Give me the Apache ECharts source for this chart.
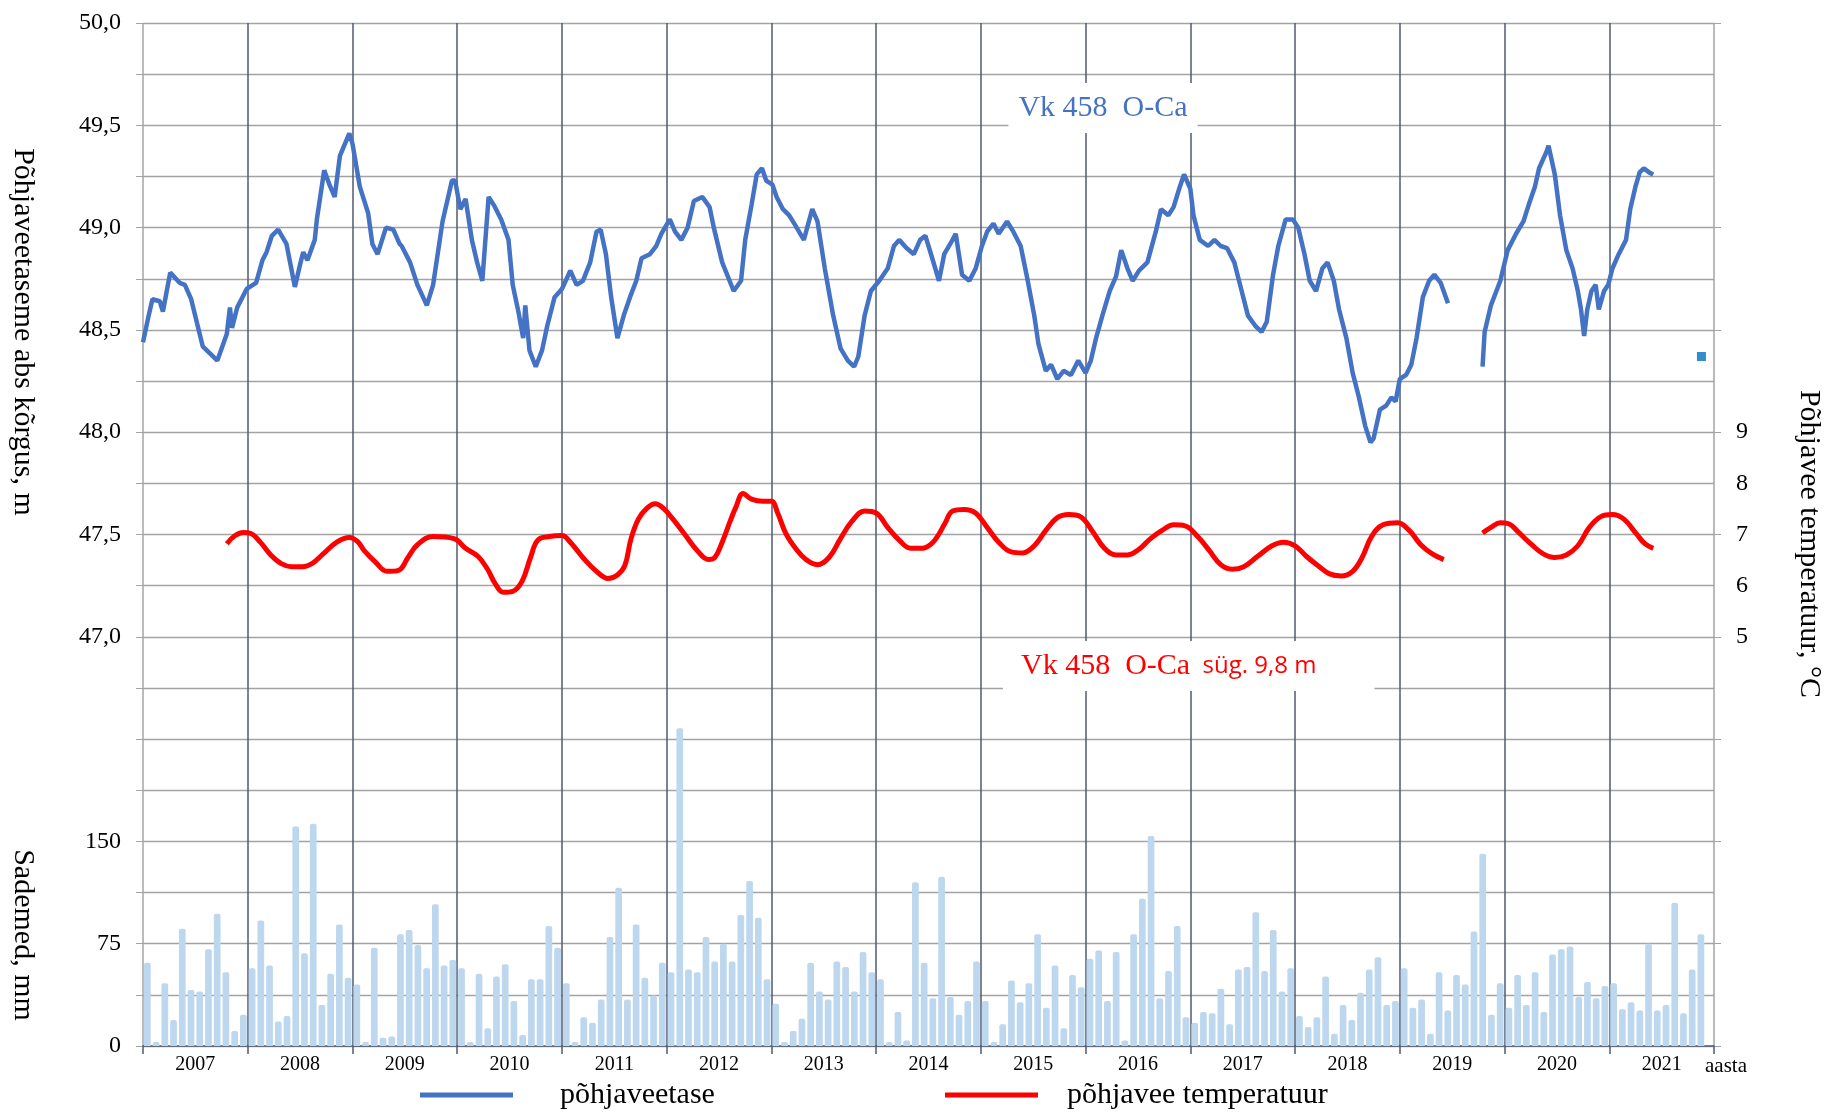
<!DOCTYPE html>
<html>
<head>
<meta charset="utf-8">
<title>Vk 458 O-Ca</title>
<script src="https://cdn.jsdelivr.net/npm/echarts@6/dist/echarts.min.js"></script>
<style>
    html, body { margin: 0; padding: 0; background: #fff; }
    #chart { width: 1829px; height: 1112px; }
</style>
</head>
<body>
<div id="chart"></div>
<script>
    // aastad x-teljel
    var aastad = ['2007', '2008', '2009', '2010', '2011', '2012', '2013', '2014',
                  '2015', '2016', '2017', '2018', '2019', '2020', '2021'];

    // kuu sademed, mm (jaan 2007 ... dets 2021)
    var sademed = [
        61, 3, 46, 19, 86, 41, 40, 71, 97, 54, 11, 23,      // 2007
        57, 92, 59, 18, 22, 161, 68, 163, 30, 53, 89, 50,   // 2008
        45, 3, 72, 6, 7, 82, 85, 74, 57, 104, 59, 63,       // 2009
        57, 3, 53, 13, 51, 60, 33, 8, 49, 49, 88, 72,       // 2010
        46, 3, 21, 17, 34, 80, 116, 34, 89, 50, 37, 61,     // 2011
        54, 233, 56, 54, 80, 62, 75, 62, 96, 121, 94, 49,   // 2012
        31, 3, 11, 20, 61, 40, 34, 62, 58, 40, 69, 54,      // 2013
        49, 3, 25, 4, 120, 61, 35, 124, 36, 23, 33, 62,     // 2014
        33, 3, 16, 48, 32, 46, 82, 28, 59, 13, 52, 43,      // 2015
        64, 70, 33, 69, 4, 82, 108, 154, 35, 55, 88, 21,    // 2016
        17, 25, 24, 42, 16, 56, 58, 98, 55, 85, 40, 57,     // 2017
        22, 14, 21, 51, 9, 30, 19, 39, 56, 65, 30, 33,      // 2018
        57, 28, 34, 9, 54, 26, 52, 45, 84, 141, 23, 46,     // 2019
        28, 52, 30, 54, 25, 67, 71, 73, 36, 47, 35, 44,     // 2020
        46, 27, 32, 26, 75, 26, 30, 105, 24, 56, 82, null   // 2021
    ];

    // põhjaveetase, m abs: [aasta, tase]
    var veetase = [
        [2007.00, 48.44], [2007.05, 48.56], [2007.09, 48.65], [2007.16, 48.64], [2007.19, 48.59],
        [2007.26, 48.78], [2007.35, 48.73], [2007.40, 48.72], [2007.46, 48.65], [2007.57, 48.42],
        [2007.71, 48.35], [2007.80, 48.48], [2007.83, 48.61], [2007.85, 48.51], [2007.90, 48.61],
        [2007.99, 48.70], [2008.08, 48.73], [2008.14, 48.84], [2008.18, 48.88], [2008.23, 48.96],
        [2008.29, 48.99], [2008.37, 48.92], [2008.45, 48.71], [2008.50, 48.82], [2008.53, 48.88],
        [2008.57, 48.84], [2008.64, 48.94], [2008.66, 49.04], [2008.73, 49.28], [2008.78, 49.21],
        [2008.83, 49.15], [2008.88, 49.35], [2008.97, 49.46], [2009.00, 49.41], [2009.07, 49.20],
        [2009.15, 49.07], [2009.19, 48.92], [2009.24, 48.87], [2009.32, 49.00], [2009.39, 48.99],
        [2009.45, 48.92], [2009.47, 48.91], [2009.55, 48.83], [2009.62, 48.72], [2009.71, 48.62],
        [2009.77, 48.72], [2009.86, 49.03], [2009.95, 49.23], [2009.98, 49.23], [2010.03, 49.09],
        [2010.08, 49.14], [2010.14, 48.94], [2010.19, 48.83], [2010.24, 48.74], [2010.30, 49.15],
        [2010.35, 49.11], [2010.42, 49.04], [2010.49, 48.94], [2010.53, 48.72], [2010.58, 48.60],
        [2010.63, 48.46], [2010.65, 48.62], [2010.69, 48.40], [2010.75, 48.32], [2010.81, 48.40],
        [2010.86, 48.52], [2010.93, 48.66], [2011.00, 48.70], [2011.08, 48.79], [2011.14, 48.72],
        [2011.20, 48.74], [2011.27, 48.83], [2011.33, 48.98], [2011.37, 48.99], [2011.42, 48.87],
        [2011.47, 48.66], [2011.53, 48.46], [2011.59, 48.57], [2011.65, 48.66], [2011.71, 48.74],
        [2011.76, 48.85], [2011.84, 48.87], [2011.90, 48.91], [2011.95, 48.97], [2012.03, 49.04],
        [2012.08, 48.98], [2012.14, 48.94], [2012.20, 49.00], [2012.26, 49.13], [2012.34, 49.15],
        [2012.41, 49.10], [2012.45, 49.00], [2012.53, 48.83], [2012.64, 48.69], [2012.71, 48.74],
        [2012.75, 48.94], [2012.81, 49.11], [2012.86, 49.26], [2012.91, 49.29], [2012.95, 49.23],
        [2013.01, 49.21], [2013.05, 49.15], [2013.11, 49.09], [2013.17, 49.06], [2013.23, 49.01],
        [2013.31, 48.94], [2013.39, 49.09], [2013.44, 49.03], [2013.51, 48.80], [2013.59, 48.57],
        [2013.66, 48.41], [2013.73, 48.35], [2013.79, 48.32], [2013.83, 48.37], [2013.89, 48.57],
        [2013.95, 48.69], [2014.03, 48.74], [2014.11, 48.80], [2014.17, 48.91], [2014.22, 48.94],
        [2014.29, 48.90], [2014.36, 48.87], [2014.42, 48.94], [2014.47, 48.96], [2014.53, 48.86],
        [2014.60, 48.74], [2014.65, 48.87], [2014.73, 48.94], [2014.76, 48.97], [2014.82, 48.77],
        [2014.89, 48.74], [2014.95, 48.80], [2015.01, 48.91], [2015.06, 48.98], [2015.12, 49.02],
        [2015.17, 48.97], [2015.25, 49.03], [2015.31, 48.98], [2015.38, 48.91], [2015.44, 48.76],
        [2015.51, 48.57], [2015.55, 48.43], [2015.62, 48.30], [2015.67, 48.33], [2015.73, 48.26],
        [2015.79, 48.30], [2015.86, 48.28], [2015.93, 48.35], [2016.00, 48.29], [2016.05, 48.35],
        [2016.10, 48.46], [2016.16, 48.57], [2016.23, 48.69], [2016.29, 48.76], [2016.34, 48.89],
        [2016.40, 48.80], [2016.45, 48.74], [2016.51, 48.79], [2016.59, 48.83], [2016.67, 48.98],
        [2016.72, 49.09], [2016.79, 49.06], [2016.84, 49.10], [2016.90, 49.20], [2016.94, 49.26],
        [2017.00, 49.19], [2017.03, 49.06], [2017.09, 48.94], [2017.17, 48.91], [2017.23, 48.94],
        [2017.29, 48.91], [2017.35, 48.90], [2017.42, 48.83], [2017.49, 48.69], [2017.55, 48.57],
        [2017.62, 48.52], [2017.68, 48.49], [2017.73, 48.54], [2017.79, 48.77], [2017.84, 48.91],
        [2017.91, 49.04], [2017.98, 49.04], [2018.03, 49.00], [2018.09, 48.87], [2018.14, 48.74],
        [2018.20, 48.69], [2018.26, 48.80], [2018.31, 48.83], [2018.37, 48.74], [2018.42, 48.60],
        [2018.49, 48.46], [2018.55, 48.29], [2018.61, 48.17], [2018.67, 48.03], [2018.72, 47.95],
        [2018.75, 47.97], [2018.81, 48.11], [2018.87, 48.13], [2018.92, 48.17], [2018.96, 48.15],
        [2019.00, 48.26], [2019.06, 48.28], [2019.11, 48.33], [2019.16, 48.46], [2019.22, 48.66],
        [2019.28, 48.74], [2019.33, 48.77], [2019.39, 48.73], [2019.46, 48.63],
        [2019.60, '-'],
        [2019.79, 48.32], [2019.81, 48.49], [2019.87, 48.62], [2019.96, 48.74], [2020.03, 48.89],
        [2020.11, 48.97], [2020.18, 49.03], [2020.23, 49.11], [2020.29, 49.20], [2020.33, 49.29],
        [2020.40, 49.37], [2020.42, 49.40], [2020.48, 49.26], [2020.53, 49.06], [2020.59, 48.89],
        [2020.65, 48.80], [2020.70, 48.69], [2020.73, 48.60], [2020.76, 48.47], [2020.79, 48.60],
        [2020.83, 48.69], [2020.87, 48.72], [2020.90, 48.60], [2020.95, 48.69], [2020.99, 48.72],
        [2021.03, 48.80], [2021.09, 48.87], [2021.16, 48.94], [2021.20, 49.09], [2021.25, 49.20],
        [2021.29, 49.27], [2021.33, 49.29], [2021.38, 49.27], [2021.42, 49.26]
    ];

    // üksik mõõtmine lõpus
    var eraldiPunkt = [[2021.88, 48.37]];

    // põhjavee temperatuur, °C: [aasta, temp]
    var temperatuur = [
        [2007.80, 6.82], [2007.88, 6.98], [2007.96, 7.04], [2008.03, 7.02], [2008.12, 6.85],
        [2008.22, 6.60], [2008.32, 6.43], [2008.42, 6.37], [2008.52, 6.37], [2008.62, 6.44],
        [2008.72, 6.62], [2008.85, 6.85], [2008.97, 6.94], [2009.05, 6.86], [2009.11, 6.69],
        [2009.22, 6.46], [2009.33, 6.28], [2009.44, 6.30], [2009.53, 6.55], [2009.62, 6.80],
        [2009.77, 6.96], [2009.97, 6.92], [2010.08, 6.73], [2010.20, 6.57], [2010.29, 6.32],
        [2010.36, 6.05], [2010.44, 5.87], [2010.53, 5.89], [2010.62, 6.09], [2010.70, 6.55],
        [2010.77, 6.89], [2010.88, 6.96], [2011.00, 6.98], [2011.08, 6.85], [2011.20, 6.55],
        [2011.33, 6.28], [2011.44, 6.14], [2011.53, 6.21], [2011.60, 6.39], [2011.66, 6.92],
        [2011.73, 7.30], [2011.81, 7.51], [2011.89, 7.60], [2011.97, 7.51], [2012.06, 7.30],
        [2012.17, 7.01], [2012.29, 6.69], [2012.40, 6.51], [2012.46, 6.55], [2012.53, 6.85],
        [2012.61, 7.28], [2012.66, 7.53], [2012.73, 7.80], [2012.81, 7.69], [2012.92, 7.65],
        [2013.00, 7.65], [2013.06, 7.42], [2013.14, 7.01], [2013.23, 6.73], [2013.33, 6.51],
        [2013.44, 6.41], [2013.55, 6.55], [2013.66, 6.92], [2013.77, 7.26], [2013.89, 7.46],
        [2014.00, 7.42], [2014.11, 7.14], [2014.22, 6.89], [2014.33, 6.73], [2014.44, 6.73],
        [2014.53, 6.82], [2014.60, 7.01], [2014.66, 7.23], [2014.73, 7.46], [2014.84, 7.49],
        [2014.95, 7.42], [2015.06, 7.14], [2015.17, 6.85], [2015.29, 6.66], [2015.40, 6.64],
        [2015.51, 6.78], [2015.62, 7.08], [2015.73, 7.33], [2015.84, 7.39], [2015.95, 7.35],
        [2016.06, 7.08], [2016.18, 6.73], [2016.29, 6.60], [2016.40, 6.60], [2016.51, 6.71],
        [2016.62, 6.92], [2016.73, 7.08], [2016.84, 7.19], [2016.95, 7.17], [2017.07, 6.96],
        [2017.18, 6.69], [2017.29, 6.41], [2017.40, 6.32], [2017.51, 6.37], [2017.64, 6.57],
        [2017.78, 6.78], [2017.89, 6.85], [2018.00, 6.78], [2018.11, 6.57], [2018.22, 6.39],
        [2018.33, 6.23], [2018.44, 6.19], [2018.55, 6.28], [2018.64, 6.55], [2018.73, 6.96],
        [2018.84, 7.19], [2018.98, 7.23], [2019.09, 7.08], [2019.20, 6.80], [2019.31, 6.62],
        [2019.42, 6.51],
        [2019.60, '-'],
        [2019.79, 7.03], [2019.87, 7.14], [2019.96, 7.23], [2020.04, 7.21], [2020.14, 7.03],
        [2020.26, 6.80], [2020.37, 6.62], [2020.48, 6.55], [2020.59, 6.60], [2020.70, 6.78],
        [2020.81, 7.14], [2020.92, 7.35], [2021.03, 7.39], [2021.14, 7.30], [2021.26, 7.01],
        [2021.34, 6.82], [2021.42, 6.73]
    ];

    var serif = 'Liberation Serif';
    var tume = '#4F5B70';   // aastajooned
    var hall = '#A3A3A3';   // horisontaalsed jooned

    var chart = echarts.init(document.getElementById('chart'));

    // tulbad kuu keskele
    var sademeteAndmed = sademed.map(function (v, i) {
        return [2007 + (i + 0.5) / 12, v];
    });

    // servajooned hallid, aastavahed tumedad
    var aastaJooned = aastad.map(function () { return tume; });
    aastaJooned[0] = hall;
    aastaJooned.push(hall);

    var option = {
        animation      : false,
        backgroundColor: '#fff',
        textStyle      : {fontFamily: serif},
        grid           : {left: 143, right: 115, top: 23, bottom: 66},
        legend         : [
            {data: ['põhjaveetase'], left: 420, top: 1080, padding: 0, icon: 'rect',
                itemWidth: 93, itemHeight: 5,
                textStyle: {fontFamily: serif, fontSize: 30, color: '#000', padding: [0, 0, 0, 42]}},
            {data: ['põhjavee temperatuur'], left: 945, top: 1080, padding: 0, icon: 'rect',
                itemWidth: 93, itemHeight: 5,
                textStyle: {fontFamily: serif, fontSize: 30, color: '#000', padding: [0, 0, 0, 24]}}
        ],
        xAxis          : [
            {
                type     : 'value', min: 2007, max: 2022, interval: 1,
                axisLabel: {show: false},
                axisLine : {onZero: false, lineStyle: {color: tume, width: 1.5}},
                axisTick : {show: true, length: 8, lineStyle: {color: tume, width: 1.5}},
                splitLine: {show: true, lineStyle: {color: aastaJooned, width: 1.5}}
            },
            {
                type     : 'category', data: aastad, position: 'bottom', boundaryGap: true,
                axisLine : {show: false}, axisTick: {show: false}, splitLine: {show: false},
                axisLabel: {fontFamily: serif, fontSize: 20, color: '#000', margin: 9}
            }
        ],
        yAxis          : [
            {   // põhjaveetase
                type     : 'value', min: 45, max: 50, interval: 0.25, position: 'left',
                axisLine : {show: false},
                axisTick : {show: true, length: 7, lineStyle: {color: hall}},
                splitLine: {show: true, lineStyle: {color: hall, width: 1.3}},
                axisLabel: {
                    fontFamily: serif, fontSize: 24, color: '#000', margin: 22,
                    formatter : function (v) {
                        if (v < 46.99) return '';
                        if (Math.abs(v * 2 - Math.round(v * 2)) > 1e-6) return '';
                        return v.toFixed(1).replace('.', ',');
                    }
                }
            },
            {   // sademed
                type     : 'value', min: 0, max: 750, interval: 37.5, position: 'left',
                axisLine : {show: false}, axisTick: {show: false}, splitLine: {show: false},
                axisLabel: {
                    fontFamily: serif, fontSize: 24, color: '#000', margin: 22,
                    formatter : function (v) {
                        return (v === 0 || v === 75 || v === 150) ? String(v) : '';
                    }
                }
            },
            {   // temperatuur
                type     : 'value', min: -3, max: 17, interval: 1, position: 'right',
                axisLine : {show: false}, axisTick: {show: false}, splitLine: {show: false},
                axisLabel: {
                    fontFamily: serif, fontSize: 24, color: '#000', margin: 22,
                    formatter : function (v) {
                        return (v >= 5 && v <= 9) ? String(v) : '';
                    }
                }
            },
            {   // paremad kriipsud
                type     : 'value', min: 45, max: 50, interval: 0.5, position: 'right',
                axisLine : {show: false}, axisLabel: {show: false}, splitLine: {show: false},
                axisTick : {show: true, length: 7, lineStyle: {color: hall}}
            }
        ],
        series         : [
            {
                name      : 'Sademed', type: 'bar', xAxisIndex: 0, yAxisIndex: 1,
                barWidth  : 6.7, data: sademeteAndmed,
                itemStyle : {color: '#BDD7EE', borderRadius: [2, 2, 0, 0]}
            },
            {
                name      : 'põhjaveetase', type: 'line', xAxisIndex: 0, yAxisIndex: 0,
                data      : veetase, showSymbol: false, symbol: 'none', connectNulls: false,
                lineStyle : {color: '#4472C4', width: 4.5},
                itemStyle : {color: '#4472C4'}, z: 4
            },
            {
                name      : 'eraldi', type: 'scatter', xAxisIndex: 0, yAxisIndex: 0,
                data      : eraldiPunkt, symbol: 'rect', symbolSize: 9,
                itemStyle : {color: '#0070C0'}, z: 4
            },
            {
                name      : 'põhjavee temperatuur', type: 'line', xAxisIndex: 0, yAxisIndex: 2,
                data      : temperatuur, showSymbol: false, symbol: 'none', smooth: 0.4,
                connectNulls: false,
                lineStyle : {color: '#FF0000', width: 5},
                itemStyle : {color: '#FF0000'}, z: 4
            }
        ],
        graphic        : [
            {type: 'text', x: 23, y: 332, rotation: -Math.PI / 2,
                style: {text: 'Põhjaveetaseme abs kõrgus, m', font: '30px "Liberation Serif"',
                    fill: '#000', align: 'center', verticalAlign: 'middle'}},
            {type: 'text', x: 23, y: 935, rotation: -Math.PI / 2,
                style: {text: 'Sademed, mm', font: '30px "Liberation Serif"',
                    fill: '#000', align: 'center', verticalAlign: 'middle'}},
            {type: 'text', x: 1809, y: 544, rotation: -Math.PI / 2,
                style: {text: 'Põhjavee temperatuur, °C', font: '30px "Liberation Serif"',
                    fill: '#000', align: 'center', verticalAlign: 'middle'}},
            {type: 'text', x: 1705, y: 1066,
                style: {text: 'aasta', font: '21px "Liberation Serif"',
                    fill: '#000', align: 'left', verticalAlign: 'middle'}},
            {type: 'text', x: 1103, y: 108, z: 10,
                style: {text: 'Vk 458  O-Ca', font: '30px "Liberation Serif"', fill: '#4472C4',
                    align: 'center', verticalAlign: 'middle', backgroundColor: '#fff',
                    padding: [10, 10, 10, 10]}},
            {type: 'text', x: 1003, y: 666, z: 10,
                style: {
                    text: '{a|Vk 458  O-Ca}{b|  süg. 9,8 m}',
                    align: 'left', verticalAlign: 'middle', backgroundColor: '#fff',
                    padding: [10, 58, 10, 18],
                    rich: {
                        a: {font: '30px "Liberation Serif"', fill: '#FF0000'},
                        b: {font: '24px "Open Sans"', fill: '#FF0000'}
                    }
                }}
        ]
    };

    chart.setOption(option);
</script>
</body>
</html>
